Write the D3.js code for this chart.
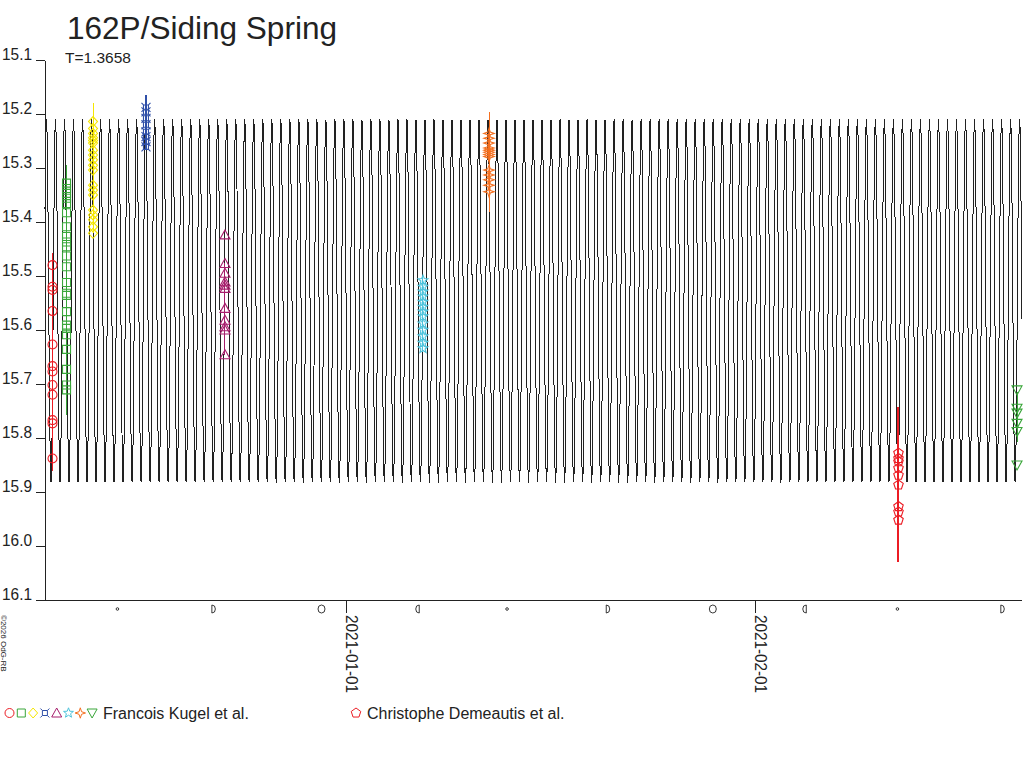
<!DOCTYPE html>
<html>
<head>
<meta charset="utf-8">
<script src="https://cdn.jsdelivr.net/npm/d3@7/dist/d3.min.js"></script>
<style>
  html, body { margin: 0; padding: 0; background: #fff; }
  svg { display: block; font-family: "Liberation Sans", Arial, sans-serif; }
</style>
</head>
<body>
<svg id="chart" width="1024" height="768"></svg>
<script>
// ---------------- DATA ----------------
const titleText = "162P/Siding Spring";
const periodLabel = "T=1.3658";
const copyrightText = "©2026 OdG-RB";

// Y axis (magnitude, inverted) tick labels
const magTicks = [15.1, 15.2, 15.3, 15.4, 15.5, 15.6, 15.7, 15.8, 15.9, 16.0, 16.1];
// X axis date ticks
const dateTicks = ["2021-01-01", "2021-02-01"];
// time window of the plot
const timeStart = "2020-12-09T04:30:00Z";
const timeEnd = "2021-02-21T05:40:00Z";

// Rotation model (double-peaked lightcurve, rotation period in days)
const rotationPeriod = 1.3658;
const modelMeanMag = 15.545;
const modelAmplitude = 0.335;
const modelEpoch = "2020-12-22T23:00:00Z"; // a brightness maximum

// Observation nights (one per symbol)
const nightSymbols = ["circle", "square", "diamond", "cross", "triangle", "star", "star4", "triangleDown", "pentagon"];
const nightObservers = ["Francois Kugel et al.", "Francois Kugel et al.", "Francois Kugel et al.", "Francois Kugel et al.", "Francois Kugel et al.", "Francois Kugel et al.", "Francois Kugel et al.", "Francois Kugel et al.", "Christophe Demeautis et al."];
const nightDates = ["2020-12-09T18:10:00Z", "2020-12-10T19:40:00Z", "2020-12-12T19:50:00Z", "2020-12-16T20:10:00Z", "2020-12-22T19:55:00Z", "2021-01-06T20:05:00Z", "2021-01-11T20:10:00Z", "2021-02-20T20:35:00Z", "2021-02-11T21:00:00Z"];

const mags_circle = [15.479, 15.519, 15.525, 15.564, 15.626, 15.666, 15.676, 15.701, 15.719, 15.766, 15.772, 15.837];
const mags_square = [15.327, 15.337, 15.346, 15.355, 15.365, 15.382, 15.408, 15.426, 15.436, 15.445, 15.462, 15.482, 15.511, 15.531, 15.535, 15.565, 15.590, 15.596, 15.608, 15.635, 15.672, 15.701, 15.710];
const mags_diamond = [15.213, 15.226, 15.235, 15.243, 15.248, 15.253, 15.266, 15.275, 15.284, 15.294, 15.303, 15.331, 15.340, 15.349, 15.377, 15.386, 15.395, 15.408, 15.420];
const mags_cross = [15.187, 15.195, 15.207, 15.219, 15.232, 15.241, 15.250, 15.260];
const mags_triangle = [15.423, 15.476, 15.494, 15.510, 15.516, 15.522, 15.559, 15.581, 15.593, 15.599, 15.645];
const mags_star = [15.507, 15.519, 15.528, 15.537, 15.547, 15.556, 15.565, 15.574, 15.587, 15.599, 15.611, 15.623, 15.633];
const mags_star4 = [15.235, 15.244, 15.253, 15.262, 15.266, 15.270, 15.274, 15.278, 15.303, 15.312, 15.321, 15.331, 15.343];
const mags_triangleDown = [15.710, 15.744, 15.753, 15.772, 15.787, 15.849];
const mags_pentagon = [15.827, 15.837, 15.843, 15.855, 15.868, 15.886, 15.926, 15.936, 15.951];

// error span (bright..faint) of each night
const spanBright = [15.457, 15.293, 15.179, 15.163, 15.475, 15.500, 15.195, 15.713, 15.741];
const spanFaint  = [15.860, 15.757, 15.420, 15.266, 15.645, 15.640, 15.380, 15.806, 16.028];

// Moon phases
const moonTypes = ["new", "first", "full", "last", "new", "first", "full", "last", "new", "first"];
const moonDates = ["2020-12-14T16:17:00Z", "2020-12-21T23:41:00Z", "2020-12-30T03:28:00Z", "2021-01-06T09:37:00Z", "2021-01-13T05:00:00Z", "2021-01-20T21:02:00Z", "2021-01-28T19:16:00Z", "2021-02-04T17:37:00Z", "2021-02-11T19:06:00Z", "2021-02-19T18:47:00Z"];

// legend
const legendGroups = ["Francois Kugel et al.", "Christophe Demeautis et al."];

// ---------------- STYLE ----------------
const symbolColors = {
  circle: "#ec1c24", square: "#3aa63a", diamond: "#f5e600", cross: "#2f4fa8",
  triangle: "#a61e6c", star: "#4fc4dc", star4: "#f57020", triangleDown: "#3aa63a", pentagon: "#ec1c24"
};
const spanWidths = [1, 1, 1, 2, 1, 1, 1, 1, 2];
const ink = "#222";

// ---------------- DRAW ----------------
const svg = d3.select("#chart");
svg.append("rect").attr("width", 1024).attr("height", 768).attr("fill", "#fff");

const parse = s => new Date(s);
const x = d3.scaleUtc().domain([parse(timeStart), parse(timeEnd)]).range([45, 1022]);
const y = d3.scaleLinear().domain([15.1, 16.1]).range([60.5, 600.5]);

// symbol path generator (outline shapes)
function symbolPath(type) {
  const p = d3.path();
  switch (type) {
    case "circle": p.moveTo(4.5, 0); p.arc(0, 0, 4.5, 0, 2 * Math.PI); break;
    case "square": p.rect(-4, -4, 8, 8); break;
    case "diamond": p.moveTo(0, -5); p.lineTo(4.5, 0); p.lineTo(0, 5); p.lineTo(-4.5, 0); p.closePath(); break;
    case "cross":
      p.rect(-2.5, -2.5, 5, 5);
      p.moveTo(-2.5, -2.5); p.lineTo(-4.5, -4.5);
      p.moveTo(2.5, -2.5); p.lineTo(4.5, -4.5);
      p.moveTo(-2.5, 2.5); p.lineTo(-4.5, 4.5);
      p.moveTo(2.5, 2.5); p.lineTo(4.5, 4.5);
      break;
    case "triangle": p.moveTo(0, -5); p.lineTo(5, 4); p.lineTo(-5, 4); p.closePath(); break;
    case "triangleDown": p.moveTo(0, 5); p.lineTo(5, -4); p.lineTo(-5, -4); p.closePath(); break;
    case "star": {
      for (let i = 0; i < 10; i++) {
        const r = i % 2 === 0 ? 5.2 : 2.2;
        const a = -Math.PI / 2 + i * Math.PI / 5;
        const px = r * Math.cos(a), py = r * Math.sin(a);
        if (i === 0) p.moveTo(px, py); else p.lineTo(px, py);
      }
      p.closePath(); break;
    }
    case "star4": {
      for (let i = 0; i < 8; i++) {
        const r = i % 2 === 0 ? 5.2 : 1.8;
        const a = -Math.PI / 2 + i * Math.PI / 4;
        const px = r * Math.cos(a), py = r * Math.sin(a);
        if (i === 0) p.moveTo(px, py); else p.lineTo(px, py);
      }
      p.closePath(); break;
    }
    case "pentagon": {
      for (let i = 0; i < 5; i++) {
        const a = -Math.PI / 2 + i * 2 * Math.PI / 5;
        const px = 5 * Math.cos(a), py = 5 * Math.sin(a);
        if (i === 0) p.moveTo(px, py); else p.lineTo(px, py);
      }
      p.closePath(); break;
    }
  }
  return p.toString();
}

// Title
svg.append("text").attr("x", 67).attr("y", 39).attr("font-size", 31).attr("fill", ink)
  .attr("textLength", 270).attr("lengthAdjust", "spacingAndGlyphs").text(titleText);
svg.append("text").attr("x", 65).attr("y", 63).attr("font-size", 15.5).attr("fill", ink).text(periodLabel);

// rotation model curve
const t0 = parse(timeStart).getTime(), t1 = parse(timeEnd).getTime();
const epoch = parse(modelEpoch).getTime();
const dayMs = 86400000;
const modelPts = [];
for (let t = t0; t <= t1; t += dayMs * 0.004) {
  const ph = (t - epoch) / dayMs / rotationPeriod;
  modelPts.push([new Date(t), modelMeanMag - modelAmplitude * Math.cos(4 * Math.PI * ph)]);
}
svg.append("path")
  .attr("d", d3.line().x(d => x(d[0])).y(d => y(d[1]))(modelPts))
  .attr("fill", "none").attr("stroke", ink).attr("stroke-width", 1)
  .attr("shape-rendering", "crispEdges");

// Y axis
const yAxisG = svg.append("g").attr("shape-rendering", "crispEdges");
yAxisG.append("line").attr("x1", 45).attr("x2", 45).attr("y1", y(15.1)).attr("y2", y(16.1)).attr("stroke", ink);
magTicks.forEach(m => {
  yAxisG.append("line").attr("x1", 36).attr("x2", 45).attr("y1", y(m)).attr("y2", y(m)).attr("stroke", ink);
  svg.append("text").attr("x", 2).attr("y", y(m) - 1).attr("font-size", 17).attr("fill", ink)
    .attr("textLength", 30).attr("lengthAdjust", "spacingAndGlyphs").text(m.toFixed(1));
});

// X axis
const xAxisG = svg.append("g").attr("shape-rendering", "crispEdges");
xAxisG.append("line").attr("x1", 36).attr("x2", 1022).attr("y1", y(16.1)).attr("y2", y(16.1)).attr("stroke", ink);
dateTicks.forEach(s => {
  const xx = Math.round(x(parse(s + "T00:00:00Z")));
  xAxisG.append("line").attr("x1", xx).attr("x2", xx).attr("y1", y(16.1)).attr("y2", y(16.1) + 12).attr("stroke", ink);
  svg.append("text").attr("transform", `translate(${xx},615) rotate(90)`)
    .attr("font-size", 16).attr("fill", ink).attr("textLength", 78).attr("lengthAdjust", "spacingAndGlyphs").text(s);
});

// Moon phases
const moonG = svg.append("g").attr("fill", "none").attr("stroke", ink).attr("stroke-width", 0.9);
moonTypes.forEach((type, i) => {
  const cx = x(parse(moonDates[i])), cy = 609;
  const g = moonG.append("g").attr("transform", `translate(${cx},${cy})`);
  if (type === "new") g.append("circle").attr("r", 1.3);
  else if (type === "full") g.append("ellipse").attr("rx", 3.5).attr("ry", 4);
  else if (type === "first") g.append("path").attr("d", "M-2,-4 L-2,4 M-2,-4 A3.5,4 0 0 1 -2,4");
  else g.append("path").attr("d", "M2,-4 L2,4 M2,-4 A3.5,4 0 0 0 2,4");
});

// copyright
svg.append("text").attr("transform", "translate(1,615) rotate(90)").attr("font-size", 8).attr("fill", ink).text(copyrightText);

// observation spans and symbols
const magsBySymbol = { circle: mags_circle, square: mags_square, diamond: mags_diamond, cross: mags_cross, triangle: mags_triangle, star: mags_star, star4: mags_star4, triangleDown: mags_triangleDown, pentagon: mags_pentagon };
nightSymbols.forEach((sym, i) => {
  const cx = x(parse(nightDates[i]));
  const col = symbolColors[sym];
  svg.append("line").attr("x1", cx).attr("x2", cx).attr("y1", y(spanBright[i])).attr("y2", y(spanFaint[i]))
    .attr("stroke", col).attr("stroke-width", spanWidths[i]).attr("shape-rendering", "crispEdges");
  svg.append("g").selectAll("path").data(magsBySymbol[sym]).join("path")
    .attr("transform", d => `translate(${cx},${y(d)})`)
    .attr("d", symbolPath(sym)).attr("fill", "none").attr("stroke", col).attr("stroke-width", 1.1);
});

// Legend
const kugelSyms = nightSymbols.filter((s, i) => nightObservers[i] === legendGroups[0]);
kugelSyms.forEach((sym, i) => {
  svg.append("path").attr("transform", `translate(${9.5 + i * 11.8},713)`)
    .attr("d", symbolPath(sym)).attr("fill", "none").attr("stroke", symbolColors[sym]).attr("stroke-width", 1);
});
svg.append("text").attr("x", 103).attr("y", 719).attr("font-size", 16).attr("fill", ink).text(legendGroups[0]);
svg.append("path").attr("transform", "translate(356,713)").attr("d", symbolPath("pentagon"))
  .attr("fill", "none").attr("stroke", symbolColors.pentagon).attr("stroke-width", 1);
svg.append("text").attr("x", 367).attr("y", 719).attr("font-size", 16).attr("fill", ink).text(legendGroups[1]);
</script>
</body>
</html>
